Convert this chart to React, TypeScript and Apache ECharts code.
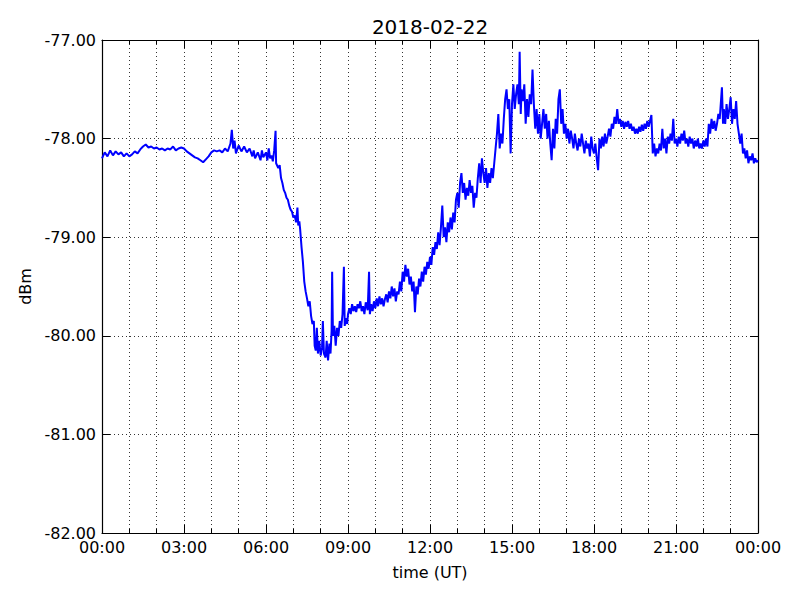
import React, { useEffect, useRef } from "react";
import * as echarts from "echarts";

const titleText = "2018-02-22";
const xTitle = "time (UT)";
const yTitle = "dBm";
const yTicks = [-82, -81, -80, -79, -78, -77];
const xTickHours = [0, 3, 6, 9, 12, 15, 18, 21, 24];

// [hour (UT), dBm]
const seg00to06: [number, number][] = [
  [0.0, -78.2], [0.1, -78.14], [0.2, -78.18], [0.3, -78.12], [0.4, -78.17], [0.5, -78.13], [0.6, -78.16], [0.7, -78.14],
  [0.8, -78.18], [0.9, -78.15], [1.0, -78.18], [1.1, -78.16], [1.2, -78.13], [1.3, -78.15], [1.4, -78.11], [1.5, -78.08],
  [1.6, -78.06], [1.7, -78.09], [1.8, -78.08], [1.9, -78.1], [2.0, -78.09], [2.1, -78.11], [2.2, -78.1], [2.3, -78.12],
  [2.4, -78.1], [2.5, -78.11], [2.6, -78.08], [2.7, -78.12], [2.8, -78.1], [2.9, -78.09], [3.0, -78.1], [3.1, -78.13],
  [3.2, -78.15], [3.3, -78.17], [3.4, -78.19], [3.5, -78.2], [3.6, -78.22], [3.7, -78.24], [3.8, -78.21], [3.9, -78.18],
  [4.0, -78.14], [4.1, -78.12], [4.2, -78.13], [4.3, -78.12], [4.4, -78.14], [4.5, -78.1], [4.6, -78.13], [4.7, -78.05],
  [4.75, -77.91], [4.8, -78.1], [4.85, -78.02], [4.9, -78.15], [5.0, -78.07], [5.1, -78.13], [5.2, -78.08], [5.3, -78.14],
  [5.4, -78.1], [5.5, -78.18], [5.55, -78.12], [5.6, -78.2], [5.7, -78.14], [5.8, -78.22], [5.85, -78.12], [5.9, -78.19],
  [6.0, -78.14],
];

const seg06to12: [number, number][] = [
  [6.05, -78.22], [6.1, -78.1], [6.15, -78.2], [6.2, -78.17], [6.25, -78.23], [6.3, -78.12], [6.35, -77.92], [6.37, -78.25],
  [6.45, -78.3], [6.5, -78.27], [6.55, -78.4], [6.6, -78.45], [6.65, -78.52], [6.7, -78.55], [6.75, -78.6], [6.8, -78.62],
  [6.85, -78.68], [6.9, -78.72], [6.95, -78.74], [7.0, -78.8], [7.05, -78.78], [7.1, -78.85], [7.15, -78.7], [7.18, -78.88],
  [7.22, -78.84], [7.25, -78.92], [7.3, -79.1], [7.35, -79.25], [7.4, -79.45], [7.45, -79.55], [7.5, -79.62], [7.55, -79.7],
  [7.6, -79.65], [7.65, -79.8], [7.7, -79.88], [7.75, -79.85], [7.78, -80.1], [7.82, -80.15], [7.86, -79.92], [7.9, -80.18],
  [7.95, -80.05], [8.0, -80.2], [8.05, -80.12], [8.08, -79.85], [8.12, -80.18], [8.18, -80.22], [8.22, -80.05], [8.27, -80.25],
  [8.32, -80.08], [8.36, -80.18], [8.4, -79.95], [8.42, -79.35], [8.45, -80.0], [8.5, -79.9], [8.55, -80.1], [8.6, -79.92],
  [8.65, -80.0], [8.7, -79.85], [8.75, -79.92], [8.8, -79.78], [8.85, -79.3], [8.88, -79.9], [8.92, -79.82], [8.97, -79.88],
  [9.0, -79.78], [9.05, -79.72], [9.1, -79.78], [9.15, -79.68], [9.2, -79.75], [9.25, -79.7], [9.3, -79.76], [9.35, -79.68],
  [9.4, -79.72], [9.45, -79.65], [9.5, -79.75], [9.55, -79.7], [9.6, -79.78], [9.65, -79.66], [9.72, -79.74], [9.77, -79.35],
  [9.8, -79.78], [9.85, -79.68], [9.9, -79.75], [9.95, -79.65], [10.0, -79.72], [10.05, -79.62], [10.1, -79.7], [10.15, -79.6],
  [10.2, -79.68], [10.25, -79.62], [10.3, -79.7], [10.35, -79.63], [10.4, -79.58], [10.45, -79.66], [10.5, -79.55], [10.55, -79.62],
  [10.6, -79.5], [10.65, -79.6], [10.7, -79.52], [10.75, -79.65], [10.8, -79.55], [10.85, -79.58], [10.9, -79.45], [10.95, -79.55],
  [11.0, -79.35], [11.05, -79.45], [11.1, -79.28], [11.15, -79.4], [11.2, -79.32], [11.25, -79.48], [11.3, -79.4], [11.35, -79.55],
  [11.4, -79.45], [11.45, -79.76], [11.5, -79.5], [11.55, -79.58], [11.6, -79.42], [11.65, -79.5], [11.7, -79.35], [11.75, -79.45],
  [11.8, -79.3], [11.85, -79.38], [11.9, -79.25], [11.95, -79.32], [12.0, -79.2],
];

const seg12to18: [number, number][] = [
  [12.05, -79.28], [12.1, -79.1], [12.15, -79.18], [12.2, -79.05], [12.25, -79.12], [12.3, -78.95], [12.35, -79.08], [12.4, -78.9],
  [12.45, -78.68], [12.5, -79.0], [12.55, -78.9], [12.6, -79.05], [12.65, -78.85], [12.7, -78.95], [12.75, -78.8], [12.8, -78.92],
  [12.85, -78.75], [12.9, -78.85], [12.95, -78.62], [13.0, -78.55], [13.05, -78.7], [13.1, -78.45], [13.15, -78.35], [13.2, -78.55],
  [13.25, -78.45], [13.3, -78.62], [13.35, -78.5], [13.4, -78.58], [13.45, -78.42], [13.5, -78.55], [13.55, -78.48], [13.6, -78.7],
  [13.65, -78.55], [13.7, -78.6], [13.75, -78.4], [13.8, -78.25], [13.85, -78.45], [13.9, -78.2], [13.95, -78.35], [14.0, -78.45],
  [14.05, -78.3], [14.1, -78.5], [14.15, -78.35], [14.2, -78.45], [14.25, -78.3], [14.3, -78.4], [14.35, -78.25], [14.4, -78.1],
  [14.45, -77.95], [14.5, -77.75], [14.55, -78.1], [14.6, -77.95], [14.65, -78.05], [14.7, -77.8], [14.75, -77.6], [14.8, -77.5],
  [14.85, -77.7], [14.9, -77.6], [14.95, -78.15], [15.0, -77.65], [15.05, -77.45], [15.1, -77.7], [15.15, -77.55], [15.2, -77.45],
  [15.25, -77.65], [15.28, -77.12], [15.32, -77.75], [15.35, -77.5], [15.4, -77.62], [15.45, -77.45], [15.5, -77.85], [15.55, -77.6],
  [15.6, -77.78], [15.65, -77.55], [15.7, -77.65], [15.75, -77.3], [15.8, -77.65], [15.85, -77.9], [15.9, -77.7], [15.95, -77.95],
  [16.0, -77.75], [16.05, -78.0], [16.1, -77.85], [16.15, -77.7], [16.2, -77.9], [16.25, -77.75], [16.3, -78.0], [16.35, -77.82],
  [16.4, -78.05], [16.45, -78.22], [16.5, -77.9], [16.55, -78.1], [16.6, -77.8], [16.65, -77.95], [16.7, -77.6], [16.75, -77.5],
  [16.8, -77.85], [16.85, -77.7], [16.9, -77.95], [16.95, -77.85], [17.0, -78.0], [17.05, -77.9], [17.1, -78.05], [17.15, -77.92],
  [17.2, -78.0], [17.25, -78.1], [17.3, -77.95], [17.35, -78.05], [17.4, -78.12], [17.45, -78.0], [17.5, -78.08], [17.55, -77.95],
  [17.6, -78.05], [17.65, -78.15], [17.7, -78.02], [17.75, -78.1], [17.8, -78.05], [17.85, -78.18], [17.9, -77.98], [17.95, -78.1],
  [18.0, -78.15],
];

const seg18to24: [number, number][] = [
  [18.05, -78.05], [18.1, -78.2], [18.15, -78.32], [18.2, -78.0], [18.25, -78.1], [18.3, -77.98], [18.35, -78.08], [18.4, -77.95],
  [18.45, -78.05], [18.5, -77.98], [18.55, -77.9], [18.6, -77.98], [18.65, -77.85], [18.7, -77.9], [18.75, -77.78], [18.8, -77.85],
  [18.85, -77.7], [18.9, -77.85], [18.95, -77.8], [19.0, -77.88], [19.05, -77.82], [19.1, -77.9], [19.15, -77.83], [19.2, -77.88],
  [19.25, -77.82], [19.3, -77.9], [19.35, -77.85], [19.4, -77.92], [19.45, -77.88], [19.5, -77.95], [19.55, -77.9], [19.6, -77.95],
  [19.65, -77.88], [19.7, -77.93], [19.75, -77.86], [19.8, -77.92], [19.85, -77.85], [19.9, -77.9], [19.95, -77.82], [20.0, -77.88],
  [20.05, -77.82], [20.1, -77.76], [20.15, -78.15], [20.2, -78.05], [20.25, -78.18], [20.3, -78.1], [20.35, -78.15], [20.4, -78.05],
  [20.45, -78.12], [20.5, -77.9], [20.55, -78.1], [20.6, -78.0], [20.65, -78.15], [20.7, -77.98], [20.75, -78.05], [20.8, -77.95],
  [20.85, -78.02], [20.9, -77.8], [20.95, -78.05], [21.0, -78.0], [21.05, -78.08], [21.1, -77.98], [21.15, -78.05], [21.2, -77.95],
  [21.25, -78.02], [21.3, -77.92], [21.35, -78.05], [21.4, -78.0], [21.45, -78.08], [21.5, -77.98], [21.55, -78.05], [21.6, -78.0],
  [21.65, -78.1], [21.7, -78.02], [21.75, -78.08], [21.8, -78.0], [21.85, -78.1], [21.9, -78.05], [21.95, -78.1], [22.0, -78.02],
  [22.05, -78.08], [22.1, -78.0], [22.15, -78.08], [22.2, -77.85], [22.25, -77.95], [22.3, -77.8], [22.35, -77.9], [22.4, -77.82],
  [22.45, -77.92], [22.5, -77.85], [22.55, -77.75], [22.6, -77.8], [22.68, -77.48], [22.72, -77.85], [22.75, -77.7], [22.8, -77.85],
  [22.85, -77.65], [22.9, -77.8], [22.95, -77.7], [23.0, -77.58], [23.05, -77.85], [23.1, -77.7], [23.15, -77.8], [23.2, -77.62],
  [23.25, -77.85], [23.3, -77.95], [23.35, -78.05], [23.4, -77.95], [23.45, -78.15], [23.5, -78.1], [23.55, -78.2], [23.6, -78.12],
  [23.65, -78.25], [23.7, -78.18], [23.75, -78.22], [23.8, -78.15], [23.85, -78.25], [23.9, -78.2], [23.95, -78.24], [24.0, -78.22],
];

const FONT = "DejaVu Sans";

function fmtHour(v: number): string {
  const h = Math.round(v) % 24;
  return (h < 10 ? "0" + h : "" + h) + ":00";
}

export default function App() {
  const ref = useRef<HTMLDivElement>(null);
  useEffect(() => {
    if (!ref.current) return;
    const chart = echarts.init(ref.current, undefined, { renderer: "svg" });
    const data = [...seg00to06, ...seg06to12, ...seg12to18, ...seg18to24];
    const dotted = { color: "#000", width: 0.8, type: [1, 3] as any };
    const baseX = {
      type: "value" as const,
      min: xTickHours[0],
      max: xTickHours[xTickHours.length - 1],
      interval: 3,
      axisLine: { show: true, onZero: false, lineStyle: { color: "#000", width: 1.2 } },
      axisTick: { show: true, inside: true, length: 8, lineStyle: { color: "#000", width: 1 } },
      minorTick: { show: true, splitNumber: 3, length: 4, lineStyle: { color: "#000", width: 1 } },
    };
    const baseY = {
      type: "value" as const,
      min: yTicks[0],
      max: yTicks[yTicks.length - 1],
      interval: 1,
      axisLine: { show: true, onZero: false, lineStyle: { color: "#000", width: 1.2 } },
      axisTick: { show: true, inside: true, length: 8, lineStyle: { color: "#000", width: 1 } },
    };
    chart.setOption({
      animation: false,
      backgroundColor: "#fff",
      grid: { left: 102, right: 42, top: 40, bottom: 67, containLabel: false },
      graphic: [
        {
          type: "text",
          x: 430,
          y: 27,
          style: {
            text: titleText,
            fontFamily: FONT,
            fontSize: 20,
            fill: "#000",
            textAlign: "center",
            textVerticalAlign: "middle",
          },
        },
      ],
      xAxis: [
        {
          ...baseX,
          position: "bottom",
          name: xTitle,
          nameLocation: "middle",
          nameGap: 31,
          nameTextStyle: { fontFamily: FONT, fontSize: 16, color: "#000" },
          axisLabel: {
            margin: 6,
            fontFamily: FONT,
            fontSize: 16,
            color: "#000",
            formatter: (v: number) => fmtHour(v),
          },
          splitLine: { show: true, lineStyle: dotted },
          minorSplitLine: { show: true, lineStyle: dotted },
        },
        {
          ...baseX,
          position: "top",
          axisLabel: { show: false },
          splitLine: { show: false },
        },
      ],
      yAxis: [
        {
          ...baseY,
          position: "left",
          name: yTitle,
          nameLocation: "middle",
          nameGap: 68,
          nameTextStyle: { fontFamily: FONT, fontSize: 16, color: "#000" },
          axisLabel: {
            margin: 6,
            fontFamily: FONT,
            fontSize: 16,
            color: "#000",
            formatter: (v: number) => v.toFixed(2),
          },
          splitLine: { show: true, lineStyle: dotted },
        },
        {
          ...baseY,
          position: "right",
          axisLabel: { show: false },
          splitLine: { show: false },
        },
      ],
      series: [
        {
          type: "line",
          data,
          xAxisIndex: 0,
          yAxisIndex: 0,
          showSymbol: false,
          symbol: "none",
          lineStyle: { color: "#0000ff", width: 2 },
          z: 5,
        },
      ],
    });
    return () => chart.dispose();
  }, []);
  return (
    <div
      ref={ref}
      style={{ position: "fixed", left: 0, top: 0, width: 800, height: 600 }}
    />
  );
}
